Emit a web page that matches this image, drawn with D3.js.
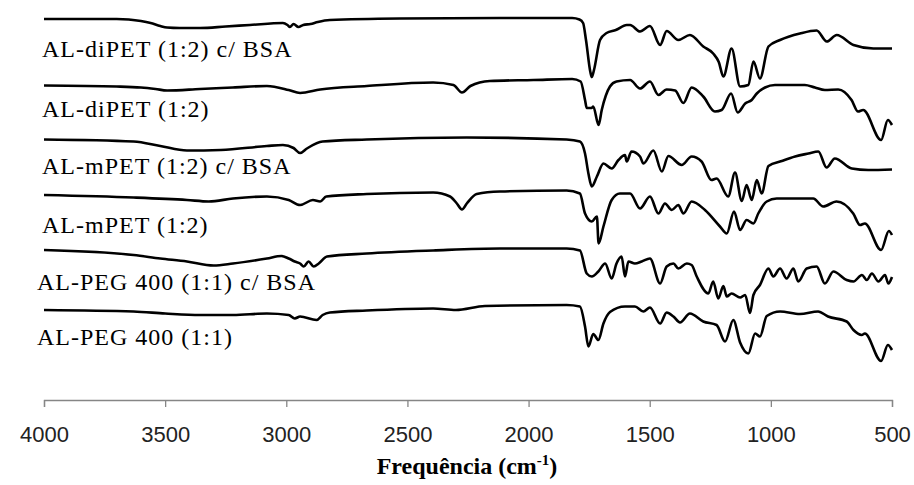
<!DOCTYPE html>
<html>
<head>
<meta charset="utf-8">
<script src="https://cdn.jsdelivr.net/npm/d3@7"></script>
<style>
  body { margin: 0; background: #fff; }
  svg { display: block; }
</style>
</head>
<body>
<script>
// FTIR spectra, stacked (transmittance in arbitrary units, higher = up)
var names = [
  "AL-diPET (1:2) c/ BSA",
  "AL-diPET (1:2)",
  "AL-mPET (1:2) c/ BSA",
  "AL-mPET (1:2)",
  "AL-PEG 400 (1:1) c/ BSA",
  "AL-PEG 400 (1:1)"
];

var xTicks = [4000, 3500, 3000, 2500, 2000, 1500, 1000, 500];

// [wavenumber cm-1, transmittance a.u.]
var diPET_BSA = [[4000,381],[3700,381],[3650,380.5],[3600,379],[3560,377],[3520,374],[3492,372.5],[3440,372],[3356,372],[3250,373.5],[3150,375],[3014,377],[2995,375],[2985,373],[2970,376],[2950,373],[2930,375],[2900,376],[2870,378],[2820,380],[2531,381.5],[2118,382],[1820,382],[1790,380.5],[1775,377],[1763,360],[1745,328],[1739,323],[1730,330],[1705,360],[1678,367],[1640,370],[1595,375],[1581,375],[1540,368.5],[1499,374],[1457,355],[1430,369],[1382,360],[1334,365],[1279,353.5],[1238,346.5],[1215,338],[1196,323.5],[1162,351.5],[1127,313.5],[1093,315],[1072,338.5],[1045,321.5],[1010,353.5],[962,360],[880,366.5],[811,369.5],[769,358.5],[728,365],[659,355],[577,351.5],[500,351.5]];

var diPET = [[4000,314.5],[3700,313.5],[3600,312.5],[3540,311],[3492,309.5],[3356,311],[3220,312.5],[3080,314],[2990,310],[2943,307],[2860,310.5],[2668,314],[2394,317.5],[2310,315],[2275,307.5],[2240,314],[2160,319],[1980,320],[1820,321],[1785,318.5],[1767,300],[1760,292],[1740,292],[1733,293.5],[1711,275],[1698,290],[1664,313.5],[1637,318.5],[1581,320],[1540,311.5],[1499,318.5],[1464,305],[1430,310.5],[1395,309.5],[1361,297],[1327,312.5],[1279,303.5],[1231,288.5],[1203,290],[1164,306.5],[1137,287.5],[1106,296.5],[1079,300],[1058,306.5],[1024,312.5],[983,315],[860,315],[818,312.5],[777,310],[722,310.5],[667,300],[640,288.5],[619,290],[545,260],[517,280],[500,275]];

var mPET_BSA = [[4000,260.5],[3630,258.5],[3520,254],[3410,249.5],[3270,250],[3080,254],[3014,255],[2970,252],[2943,247],[2915,251.5],[2850,258.5],[2668,260.5],[2255,262.5],[1843,260.5],[1788,258.5],[1767,246.5],[1753,226.5],[1739,213.5],[1718,223.5],[1691,236.5],[1657,231.5],[1629,240],[1602,245],[1595,238.5],[1575,248.5],[1540,243.5],[1526,236.5],[1485,249.5],[1450,228.5],[1423,244],[1368,235],[1327,243.5],[1286,238.5],[1245,220],[1224,221.5],[1176,203.5],[1148,227.5],[1120,199],[1100,215],[1079,200],[1058,220],[1038,206.5],[1010,234],[955,239],[900,243.5],[845,246.5],[804,248.5],[770,232.5],[736,241.5],[666,231.5],[598,230],[500,230.5]];

var mPET = [[4000,205],[3630,202.5],[3410,200],[3320,198.5],[3220,201.5],[3080,203.5],[2990,200],[2943,195],[2890,200],[2860,198.5],[2835,203.5],[2668,206],[2394,207.5],[2324,203.5],[2296,196.5],[2275,190.5],[2255,196.5],[2214,206],[2118,208.5],[1843,209.5],[1788,206.5],[1767,186.5],[1739,178.5],[1718,183.5],[1711,156.5],[1691,173.5],[1657,200],[1623,206.5],[1581,206.5],[1540,191.5],[1499,203.5],[1464,186.5],[1437,196.5],[1409,190],[1382,195],[1361,186.5],[1327,198.5],[1272,190],[1210,173.5],[1182,166.5],[1152,188.5],[1127,170],[1100,180],[1072,176.5],[1052,186.5],[1017,198.5],[976,201.5],[825,201.5],[784,193.5],[729,198.5],[660,186.5],[632,175],[612,176.5],[545,150],[513,169],[500,165]];

var peg_BSA = [[4000,150],[3630,145],[3520,141.5],[3410,138.5],[3300,134.5],[3220,136.5],[3080,141.5],[3020,144],[2990,141.5],[2965,138.5],[2943,136.5],[2928,133.5],[2908,138.5],[2887,133.5],[2866,136.5],[2832,143.5],[2668,146.5],[2394,149.5],[2118,151.5],[1843,151.5],[1788,149.5],[1760,126.5],[1739,123.5],[1712,128.5],[1684,136.5],[1657,121.5],[1637,136.5],[1616,143.5],[1602,123.5],[1588,138.5],[1561,136.5],[1533,138.5],[1499,141.5],[1457,116.5],[1430,133.5],[1402,136.5],[1382,131.5],[1347,136.5],[1327,135],[1306,123.5],[1258,106.5],[1238,118.5],[1217,101.5],[1196,114],[1182,103.5],[1162,106.5],[1127,102.5],[1106,105],[1086,87],[1072,105],[1045,115],[1010,131.5],[990,123.5],[962,131.5],[935,121.5],[907,131.5],[887,118.5],[852,131.5],[811,133.5],[777,116.5],[742,128.5],[687,120],[659,118.5],[624,125],[604,120],[583,126.5],[556,118.5],[529,125],[515,116.5],[500,123]];

var peg = [[4000,90],[3630,88.5],[3500,86.5],[3356,85],[3220,85],[3080,86.5],[2990,85],[2965,81.5],[2943,83.5],[2875,80],[2850,85],[2820,87.5],[2668,89.5],[2394,91.5],[2300,90],[2180,94],[1843,95],[1788,93.5],[1767,73.5],[1753,53.5],[1733,66],[1712,60],[1691,76.5],[1664,88],[1602,93.5],[1561,93.5],[1526,88.5],[1499,92.5],[1457,76.5],[1430,87.5],[1402,83.5],[1375,77.5],[1334,86.5],[1279,78.5],[1224,75],[1189,58.5],[1155,80],[1127,57.5],[1093,46.5],[1065,66.5],[1045,63.5],[1017,84],[962,88.5],[880,86],[805,88.5],[764,83.5],[687,78.5],[659,70],[625,65],[612,66.5],[545,39],[517,55],[500,50]];

var spectra = [diPET_BSA, diPET, mPET_BSA, mPET, peg_BSA, peg];

var W = 914, H = 485;

var svg = d3.select("body").append("svg")
    .attr("width", W)
    .attr("height", H);

var x = d3.scaleLinear().domain([4000, 500]).range([44, 892]);
var y = d3.scaleLinear().domain([0, 400]).range([400, 0]);

var line = d3.line()
    .x(function(d) { return x(d[0]); })
    .y(function(d) { return y(d[1]); })
    .curve(d3.curveMonotoneX);

svg.selectAll(".spec")
    .data(spectra)
    .enter().append("path")
    .attr("class", "spec")
    .attr("d", line)
    .style("fill", "none")
    .style("stroke", "#000")
    .style("stroke-width", 2.6)
    .style("stroke-linejoin", "round");

// label baselines (px)
var labelY = [57, 117, 174, 233, 290, 345];
var labelX = [42, 42, 42, 42, 37, 37];

svg.selectAll(".lbl")
    .data(names)
    .enter().append("text")
    .attr("class", "lbl")
    .attr("x", function(d, i) { return labelX[i]; })
    .attr("y", function(d, i) { return labelY[i]; })
    .style("font-family", "'Liberation Serif', 'Times New Roman', serif")
    .style("font-size", "24px")
    .style("letter-spacing", "1px")
    .style("fill", "#000")
    .text(function(d) { return d; });

var xAxis = d3.axisBottom(x)
    .tickValues(xTicks)
    .tickSize(7)
    .tickSizeOuter(7)
    .tickPadding(19)
    .tickFormat(d3.format("d"));

var gx = svg.append("g")
    .attr("transform", "translate(0,400)")
    .call(xAxis);

gx.select(".domain").style("stroke", "#868686").style("stroke-width", 1.3);
gx.selectAll(".tick line").style("stroke", "#868686").style("stroke-width", 1.3);
gx.selectAll(".tick text")
    .style("font-family", "'Liberation Sans', Arial, sans-serif")
    .style("font-size", "22px")
    .style("fill", "#222");

var title = svg.append("text")
    .attr("x", 467)
    .attr("y", 474)
    .attr("text-anchor", "middle")
    .style("font-family", "'Liberation Serif', 'Times New Roman', serif")
    .style("font-size", "24px")
    .style("font-weight", "bold");
title.append("tspan").text("Frequência (cm");
title.append("tspan").attr("dy", -9).style("font-size", "15px").text("-1");
title.append("tspan").attr("dy", 9).text(")");
</script>
</body>
</html>
